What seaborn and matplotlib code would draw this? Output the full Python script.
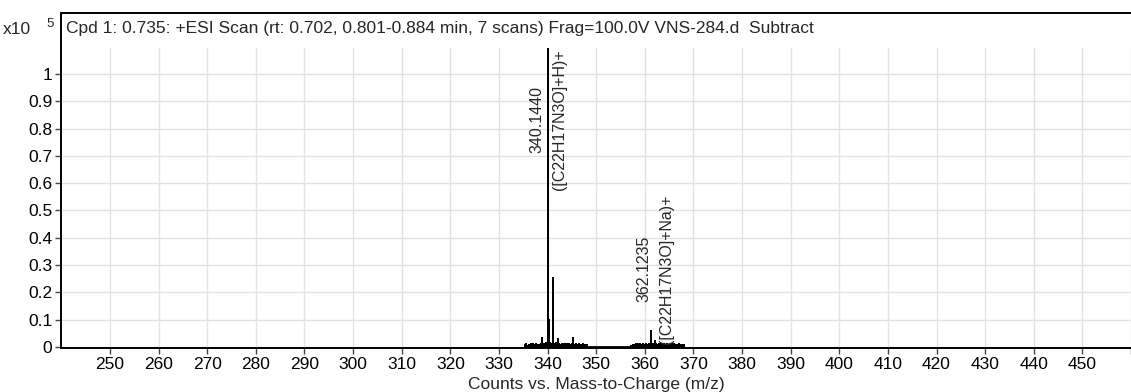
import numpy as np
import pandas as pd
import matplotlib
matplotlib.use("Agg")
import matplotlib.pyplot as plt
import seaborn as sns
from matplotlib.ticker import FuncFormatter

# main peaks (m/z, counts x10^5)
peak_mz = [340.144, 340.30, 341.15, 361.20, 362.12]
peak_int = [1.15, 0.10, 0.252, 0.058, 0.022]

# small peaks sticking out of the noise
spike_mz = [338.95, 339.60, 342.20, 343.10, 345.25, 358.60, 363.40, 366.10]
spike_int = [0.034, 0.014, 0.028, 0.012, 0.033, 0.010, 0.011, 0.009]

# noise band, first cluster
noise1_mz = [335.3, 335.6, 335.9, 336.2, 336.5, 336.8, 337.1, 337.4, 337.7, 338.0,
             338.3, 338.6, 338.8, 339.2, 339.4, 339.8, 340.5, 340.8, 341.4, 341.7,
             342.0, 342.4, 342.7, 342.9, 343.3, 343.6, 343.9, 344.2, 344.5, 344.8,
             345.0, 345.5, 345.8, 346.1, 346.4, 346.7, 347.0, 347.3, 347.6, 347.9,
             348.1]
noise1_int = [0.006, 0.009, 0.005, 0.008, 0.010, 0.006, 0.009, 0.007, 0.011, 0.006,
              0.008, 0.010, 0.012, 0.009, 0.011, 0.013, 0.015, 0.012, 0.010, 0.013,
              0.009, 0.011, 0.008, 0.010, 0.007, 0.009, 0.011, 0.006, 0.010, 0.008,
              0.009, 0.007, 0.010, 0.006, 0.009, 0.008, 0.006, 0.009, 0.007, 0.005,
              0.006]

# noise band, second cluster
noise2_mz = [357.2, 357.5, 357.8, 358.1, 358.4, 358.8, 359.1, 359.4, 359.7, 360.0,
             360.3, 360.6, 360.9, 361.5, 361.8, 362.4, 362.7, 363.0, 363.7, 364.0,
             364.3, 364.6, 364.9, 365.2, 365.5, 365.8, 366.4, 366.7, 367.0, 367.3,
             367.6, 367.9, 368.1]
noise2_int = [0.005, 0.008, 0.006, 0.009, 0.007, 0.008, 0.010, 0.006, 0.009, 0.007,
              0.010, 0.008, 0.011, 0.012, 0.009, 0.010, 0.008, 0.009, 0.007, 0.010,
              0.006, 0.009, 0.008, 0.007, 0.009, 0.006, 0.008, 0.007, 0.009, 0.006,
              0.008, 0.005, 0.006]

labels = [(340.144, 0.832, "340.1440", "([C22H17N3O]+H)+"),
          (362.1235, 0.286, "362.1235", "([C22H17N3O]+Na)+")]

x_ticks = list(range(250, 461, 10))
y_ticks = [0, 0.1, 0.2, 0.3, 0.4, 0.5, 0.6, 0.7, 0.8, 0.9, 1.0]

title = "Cpd 1: 0.735: +ESI Scan (rt: 0.702, 0.801-0.884 min, 7 scans) Frag=100.0V VNS-284.d  Subtract"

# build stick profile
mz = peak_mz + spike_mz + noise1_mz + noise2_mz
inten = peak_int + spike_int + noise1_int + noise2_int
order = np.argsort(mz)
px, py = [], []
for i in order:
    px += [mz[i], mz[i], mz[i]]
    py += [0.0, inten[i], 0.0]
df = pd.DataFrame({"mz": px, "counts": py})

sns.set_theme(style="whitegrid")
plt.rcParams["font.family"] = ["Liberation Sans", "DejaVu Sans"]
FS = 12.5

W, H = 1131, 392
fig = plt.figure(figsize=(W / 100, H / 100), dpi=100)
ax = fig.add_axes([61.4 / W, 1 - 348 / H, (1131 - 61.4) / W, (348 - 48) / H])

sns.lineplot(data=df, x="mz", y="counts", sort=False, estimator=None,
             color="black", linewidth=1.3, ax=ax)

ax.set_xlim(240, 460)
ax.set_ylim(-0.004, 1.095)
ax.set_xticks(x_ticks)
ax.set_yticks(y_ticks)
ax.set_xticklabels([str(t) if t < 460 else "" for t in x_ticks])
ax.yaxis.set_major_formatter(FuncFormatter(lambda v, p: f"{v:g}"))
ax.set_xlabel("")
ax.set_ylabel("")
ax.set_facecolor("white")
ax.grid(True, color="#e2e2e2", linewidth=1.0)
for s in ["top", "right"]:
    ax.spines[s].set_visible(False)
for s in ["left", "bottom"]:
    ax.spines[s].set_color("black")
    ax.spines[s].set_linewidth(1.4)
ax.tick_params(axis="both", which="major", direction="out", length=4.5, width=1,
               color="#444444", labelsize=FS, labelcolor="black", pad=2)
ax.tick_params(axis="y", left=True)
ax.tick_params(axis="x", bottom=True)

for xm, yc, mass, formula in labels:
    ax.text(xm - 2.35, yc, mass, rotation=90, ha="center", va="center", fontsize=11.5)
    ax.text(xm + 2.35, yc, formula, rotation=90, ha="center", va="center", fontsize=11.5)

# header box with the scan description
fig.add_artist(plt.Line2D([61.4 / W, 61.4 / W], [1 - 13 / H, 1 - 48 / H], color="black", lw=1.4))
fig.add_artist(plt.Line2D([61.4 / W, 1.0], [1 - 13 / H, 1 - 13 / H], color="black", lw=1.4))
fig.text(66 / W, 1 - 28.5 / H, title, ha="left", va="center", fontsize=FS)
fig.text(3 / W, 1 - 30 / H, "x10", ha="left", va="center", fontsize=FS)
fig.text(46 / W, 1 - 24 / H, "5", ha="left", va="center", fontsize=9.5)

fig.text(596 / W, 1 - 385 / H, "Counts vs. Mass-to-Charge (m/z)", ha="center", va="center", fontsize=FS)

fig.savefig("out.png", dpi=100)
